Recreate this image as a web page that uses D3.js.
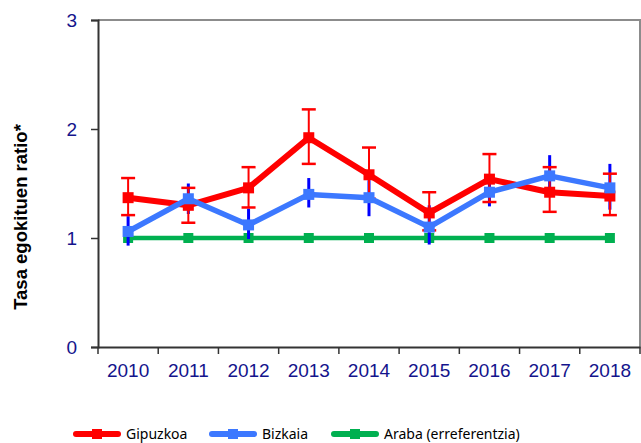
<!DOCTYPE html>
<html>
<head>
<meta charset="utf-8">
<script src="https://cdn.jsdelivr.net/npm/d3@7"></script>
<style>
  body { margin: 0; background: #fff; }
  svg { display: block; }
</style>
</head>
<body>
<div id="chart"></div>
<script>
'use strict';

const years = ['2010', '2011', '2012', '2013', '2014', '2015', '2016', '2017', '2018'];
const yTicks = [0, 1, 2, 3];

// Gipuzkoa (red) ratio with confidence interval
const gipuzkoa    = [1.37, 1.30, 1.46, 1.92, 1.58, 1.23, 1.54, 1.42, 1.385];
const gipuzkoaLow = [1.21, 1.14, 1.28, 1.68, 1.36, 1.07, 1.33, 1.24, 1.21];
const gipuzkoaHigh= [1.55, 1.46, 1.65, 2.18, 1.83, 1.42, 1.77, 1.65, 1.59];

// Bizkaia (blue)
const bizkaia     = [1.06, 1.36, 1.12, 1.40, 1.37, 1.10, 1.42, 1.57, 1.46];
const bizkaiaLow  = [0.93, 1.22, 0.99, 1.28, 1.20, 0.94, 1.29, 1.39, 1.26];
const bizkaiaHigh = [1.20, 1.50, 1.27, 1.55, 1.53, 1.30, 1.56, 1.76, 1.68];

// Araba is the reference
const araba       = [1, 1, 1, 1, 1, 1, 1, 1, 1];

const legendNames = ['Gipuzkoa', 'Bizkaia', 'Araba (erreferentzia)'];

const width = 641, height = 443;
const plotL = 98, plotR = 640, plotT = 20, plotB = 347;

const svg = d3.select('#chart').append('svg')
  .attr('width', width)
  .attr('height', height);

const x = d3.scaleBand().domain(years).range([plotL, plotR]);
const y = d3.scaleLinear().domain([0, 3]).range([plotB, plotT]);
const cx = d => x(d) + x.bandwidth() / 2;

// frame: grey top and right edges
svg.append('path')
  .attr('d', `M${plotL},${plotT}H${plotR}V${plotB}`)
  .attr('fill', 'none')
  .attr('stroke', '#8c8c8c')
  .attr('stroke-width', 2);

// y axis
const yAxis = svg.append('g')
  .attr('transform', `translate(${plotL},0)`)
  .call(d3.axisLeft(y).tickValues(yTicks).tickFormat(d3.format('d')).tickSize(7).tickPadding(14));
yAxis.select('.domain').attr('stroke', '#333').attr('stroke-width', 2);
yAxis.selectAll('.tick line').attr('stroke', '#333').attr('stroke-width', 1.5);
yAxis.selectAll('text')
  .attr('fill', '#14148c')
  .style('font-family', 'Liberation Sans, Arial, sans-serif')
  .style('font-size', '19px');

// x axis (labels centred, ticks on category edges)
const xAxis = svg.append('g')
  .attr('transform', `translate(0,${plotB})`)
  .call(d3.axisBottom(x).tickSize(0).tickPadding(17));
xAxis.select('.domain').attr('stroke', '#333').attr('stroke-width', 2);
xAxis.selectAll('text')
  .attr('fill', '#14148c')
  .style('font-family', 'Liberation Sans, Arial, sans-serif')
  .style('font-size', '19px');

const edges = years.map(d => x(d)).concat([x(years[years.length - 1]) + x.bandwidth()]);
svg.append('g').selectAll('line')
  .data(edges)
  .join('line')
  .attr('x1', d => d).attr('x2', d => d)
  .attr('y1', plotB).attr('y2', plotB + 7)
  .attr('stroke', '#333')
  .attr('stroke-width', 1.5);

// y axis title
svg.append('text')
  .attr('transform', 'translate(27,217) rotate(-90)')
  .attr('text-anchor', 'middle')
  .style('font-family', 'Liberation Sans, Arial, sans-serif')
  .style('font-size', '18.5px')
  .style('font-weight', 'bold')
  .text('Tasa egokituen ratio*');

const line = d3.line().x((d, i) => cx(years[i])).y(d => y(d));

function drawSeries(vals, color, w, m) {
  const g = svg.append('g');
  g.append('path')
    .datum(vals)
    .attr('d', line)
    .attr('fill', 'none')
    .attr('stroke', color)
    .attr('stroke-width', w)
    .attr('stroke-linejoin', 'round');
  g.selectAll('rect')
    .data(vals)
    .join('rect')
    .attr('x', (d, i) => cx(years[i]) - m / 2)
    .attr('y', d => y(d) - m / 2)
    .attr('width', m)
    .attr('height', m)
    .attr('fill', color);
}

// green reference line
drawSeries(araba, '#00b050', 4.5, 10);

// blue error bars (no caps)
svg.append('g').selectAll('line')
  .data(years)
  .join('line')
  .attr('x1', d => cx(d)).attr('x2', d => cx(d))
  .attr('y1', (d, i) => y(bizkaiaLow[i]))
  .attr('y2', (d, i) => y(bizkaiaHigh[i]))
  .attr('stroke', '#0000ff')
  .attr('stroke-width', 3);

// red error bars with caps
const redErr = svg.append('g');
years.forEach((d, i) => {
  const xc = cx(d);
  redErr.append('line')
    .attr('x1', xc).attr('x2', xc)
    .attr('y1', y(gipuzkoaLow[i])).attr('y2', y(gipuzkoaHigh[i]))
    .attr('stroke', '#ff0000').attr('stroke-width', 2);
  [gipuzkoaLow[i], gipuzkoaHigh[i]].forEach(v => {
    redErr.append('line')
      .attr('x1', xc - 7).attr('x2', xc + 7)
      .attr('y1', y(v)).attr('y2', y(v))
      .attr('stroke', '#ff0000').attr('stroke-width', 2.5);
  });
});

drawSeries(gipuzkoa, '#ff0000', 6, 11);
drawSeries(bizkaia, '#3c78ff', 5.5, 11);

// legend
const legendX = [73, 209, 331];
const legendColors = ['#ff0000', '#3c78ff', '#00b050'];
const legendY = 434;
const lg = svg.append('g');
legendNames.forEach((name, i) => {
  const x0 = legendX[i];
  lg.append('line')
    .attr('x1', x0 + 3).attr('x2', x0 + 45)
    .attr('y1', legendY).attr('y2', legendY)
    .attr('stroke', legendColors[i])
    .attr('stroke-width', 6)
    .attr('stroke-linecap', 'round');
  lg.append('rect')
    .attr('x', x0 + 19).attr('y', legendY - 5)
    .attr('width', 10).attr('height', 10)
    .attr('fill', legendColors[i]);
  lg.append('text')
    .attr('x', x0 + 53)
    .attr('y', legendY + 4.5)
    .style('font-family', 'Noto Sans, sans-serif')
    .style('font-size', '14px')
    .attr('fill', '#000')
    .text(name);
});
</script>
</body>
</html>
